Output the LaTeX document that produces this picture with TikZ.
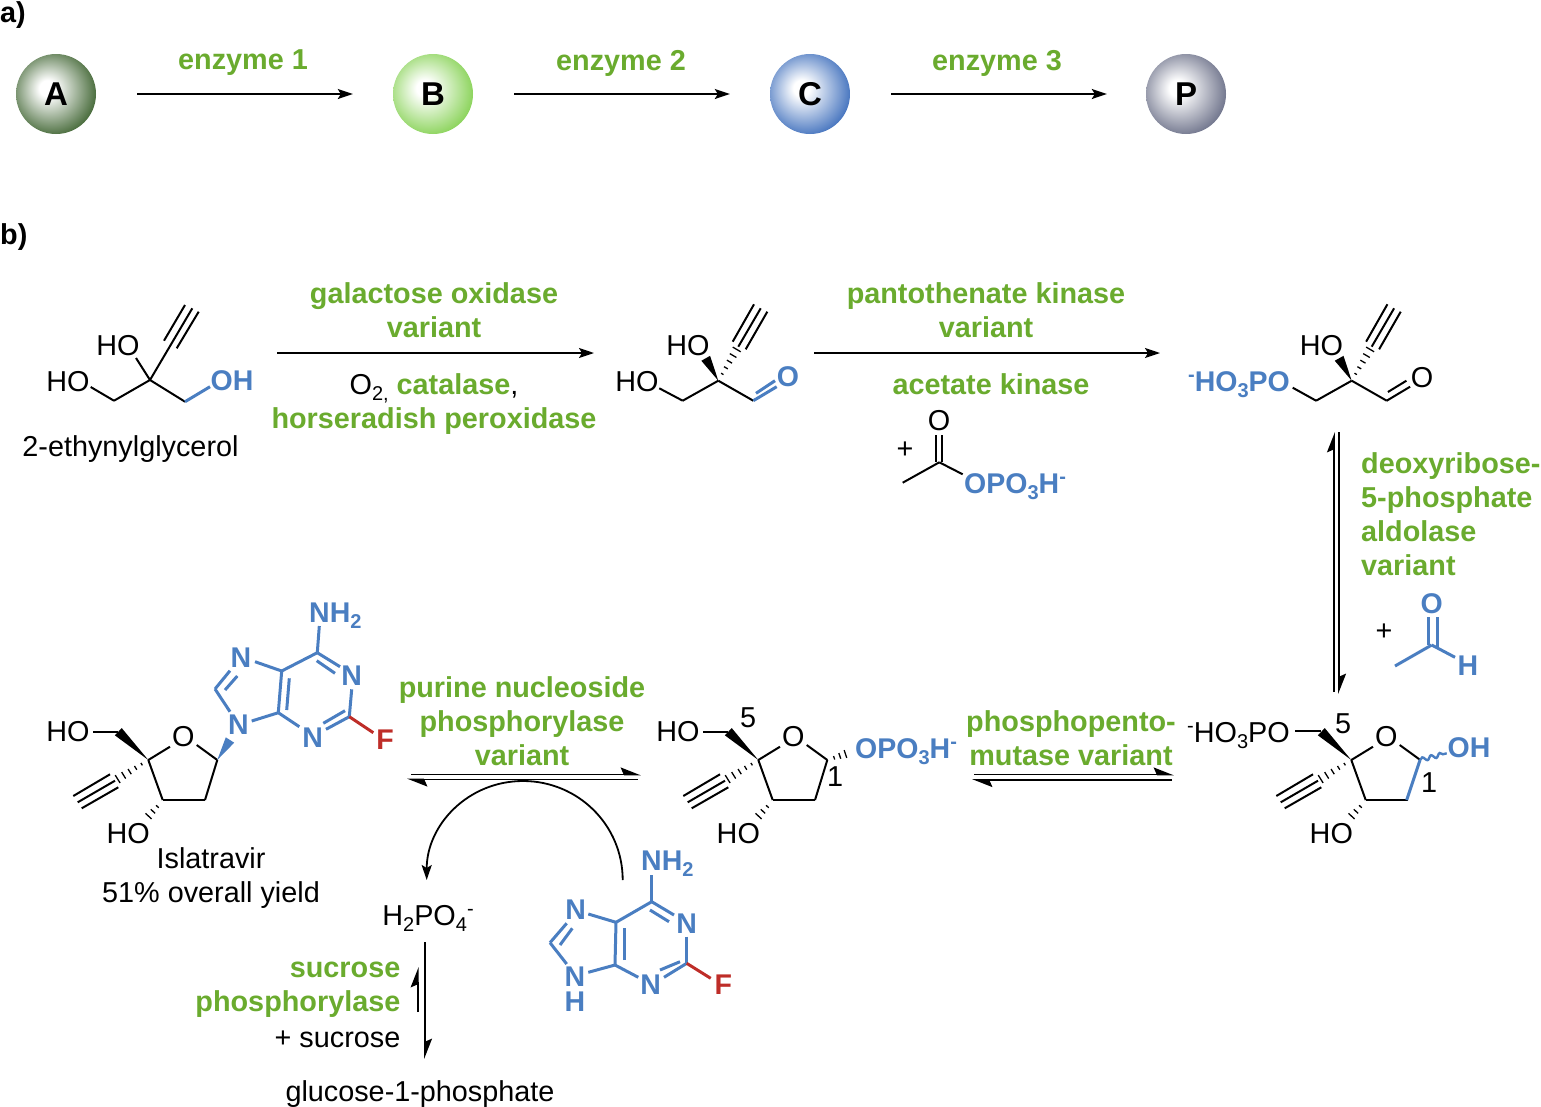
\documentclass[tikz,border=0pt]{standalone}
\usepackage{fontspec}
\setmainfont{Liberation Sans}
\usetikzlibrary{arrows.meta,calc,decorations.pathmorphing}

\definecolor{enzgreen}{RGB}{106,171,46}
\definecolor{subblue}{RGB}{74,126,193}
\definecolor{fred}{RGB}{190,45,40}
\definecolor{ballAcol}{RGB}{58,96,44}
\definecolor{ballBcol}{RGB}{130,208,78}
\definecolor{ballCcol}{RGB}{56,106,186}
\definecolor{ballPcol}{RGB}{102,107,132}

\pgfdeclareradialshading{ballA}{\pgfpoint{-6bp}{4bp}}{color(0bp)=(white); color(5bp)=(white); color(30bp)=(ballAcol); color(50bp)=(ballAcol)}
\pgfdeclareradialshading{ballB}{\pgfpoint{-6bp}{4bp}}{color(0bp)=(white); color(5bp)=(white); color(30bp)=(ballBcol); color(50bp)=(ballBcol)}
\pgfdeclareradialshading{ballC}{\pgfpoint{-6bp}{4bp}}{color(0bp)=(white); color(5bp)=(white); color(30bp)=(ballCcol); color(50bp)=(ballCcol)}
\pgfdeclareradialshading{ballP}{\pgfpoint{-6bp}{4bp}}{color(0bp)=(white); color(5bp)=(white); color(30bp)=(ballPcol); color(50bp)=(ballPcol)}

\newcommand{\chemsub}[1]{\raisebox{-6pt}{\fontsize{20}{20}\selectfont #1}}
\newcommand{\chemsup}[1]{\raisebox{10pt}{\fontsize{20}{20}\selectfont #1}}

\tikzset{
  every node/.style={inner sep=0pt, font=\fontsize{28.8}{34}\selectfont},
  atom/.style={},
  batom/.style={text=subblue, font=\fontsize{28.5}{34}\selectfont\bfseries},
  enz/.style={text=enzgreen, align=center, font=\fontsize{28.8}{34}\selectfont\bfseries},
  ball/.style={circle, minimum size=80pt, shade, font=\fontsize{33}{33}\selectfont\bfseries},
  bond/.style={line width=2pt},
  bbond/.style={line width=3pt, color=subblue},
  fbond/.style={line width=3pt, color=fred},
  rxn/.style={line width=1.8pt, -{Stealth[length=15pt,width=10pt,inset=3pt]}},
  eqm/.style={line width=1.8pt, -{Stealth[harpoon,length=18pt,width=14pt,inset=3pt]}}
}

\newcommand{\wedgebond}[4][black]{\fill[#1] (#2) -- ($(#3)!#4pt!90:(#2)$) -- ($(#3)!#4pt!-90:(#2)$) -- cycle;}
\newcommand{\hashbond}[3][0.2,0.38,0.56,0.74,0.92]{
  \foreach \hf in {#1}{
    \pgfmathsetmacro\hw{0.5+\hf*4.5}
    \draw[line width=1.3pt] ($(#2)!\hf!(#3)!\hw pt!90:(#3)$) -- ($(#2)!\hf!(#3)!\hw pt!-90:(#3)$);
  }
}

% furanose ring shared by the three nucleosides
\newcommand{\furanring}[1]{
  \draw[bond] (148.3,760) -- (170,746.7);
  \draw[bond] (196.7,745) -- (217.3,760);
  \draw[bond] (205,800) -- (162.7,800);
  \draw[bond] (162.7,800) -- (148.3,760);
  \wedgebond{148.3,760}{118.3,731.7}{5}
  \hashbond{148.3,760}{115,780.7}
  \draw[bond] (73.3,796) -- (110,774.3);
  \draw[bond] (77.7,802.3) -- (115,780.7);
  \draw[bond] (81.7,808.3) -- (118.3,787.3);
  \hashbond[0.3,0.55,0.8,1.0]{162.7,800.7}{145,820}
  \node[atom] (ringO#1) at (183.3,737) {O};
  \node[atom] (ringHO#1) at (128.3,834) {HO};
}

% alkyne carbon shared by the two aldehydes
\newcommand{\alkynal}[1]{
  \draw[bond] (682.7,400.7) -- (718.3,380.7);
  \draw[bond] (718.3,380.7) -- (753.3,400.7);
  \wedgebond{718.3,380.7}{705.7,358.3}{5}
  \hashbond{718.3,380.7}{738.3,346.7}
  \draw[bond] (738.3,346.7) -- (760.7,308.3);
  \draw[bond] (732.7,341.7) -- (754,304.3);
  \draw[bond] (745.7,349.3) -- (767.3,311.7);
  \node[atom] (topHO#1) at (688,346) {HO};
}

\begin{document}
\begin{tikzpicture}[x=1pt,y=-1pt]
\useasboundingbox (0,0) rectangle (1541,1106);

\node[font=\fontsize{28.8}{34}\selectfont\bfseries, anchor=west] (parta) at (0,15) {a)};
\node[font=\fontsize{28.8}{34}\selectfont\bfseries, anchor=west] (partb) at (0,237) {b)};

% part a
\node[ball, shading=ballA] (ballA) at (56,94) {\raisebox{-2pt}{A}};
\node[ball, shading=ballB] (ballB) at (433,94) {\raisebox{-3pt}{B}};
\node[ball, shading=ballC] (ballC) at (810,94) {\raisebox{-1pt}{C}};
\node[ball, shading=ballP] (ballP) at (1186,94) {P};
\draw[rxn, shorten <=41pt, shorten >=40pt] (ballA) -- (ballB);
\draw[rxn, shorten <=41pt, shorten >=40pt] (ballB) -- (ballC);
\draw[rxn, shorten <=41pt, shorten >=39pt] (ballC) -- (ballP);
\node[enz] (enz1) at (243,63) {enzyme 1};
\node[enz] (enz2) at (621,63) {enzyme 2};
\node[enz] (enz3) at (997,63) {enzyme 3};

% 2-ethynylglycerol
\draw[bond] (90.7,387) -- (114,400.7);
\draw[bond] (114,400.7) -- (150,380);
\draw[bond] (150,380) -- (185,401.7);
\draw[bbond] (185,401.7) -- (210,386.7);
\draw[bond] (150,380) -- (136,358);
\draw[bond] (150,380) -- (192.3,308.3);
\draw[bond] (164,340.7) -- (185,305);
\draw[bond] (176.7,348.3) -- (198.7,311.7);
\node[atom] (glyHOa) at (118,346) {HO};
\node[atom] (glyHOb) at (68,382) {HO};
\node[batom] (glyOH) at (232,381) {OH};
\node[atom] (glyname) at (130.5,449) {2-ethynylglycerol};

\coordinate (oxs) at (277,353);
\coordinate (oxe) at (594,353);
\draw[rxn] (oxs) -- (oxe);
\node[enz] (galox) at (434,310) {galactose oxidase\\variant};
\node[enz] (hrp) at (434,404.5) {{\fontsize{28.8}{34}\selectfont\mdseries\color{black}O\chemsub{2,}} catalase{\fontsize{28.8}{34}\selectfont\mdseries\color{black},}\\horseradish peroxidase};

% aldehyde
\alkynal{a}
\draw[bond] (659.3,388.3) -- (682.7,400.7);
\node[atom] (aldHO) at (637,382) {HO};
\draw[bbond] (753.3,400.7) -- (776.7,386.7);
\draw[bbond] (756,393.3) -- (775,380.7);
\node[batom] (aldO) at (788,377) {O};

\coordinate (kins) at (814,353);
\coordinate (kine) at (1160,353);
\draw[rxn] (kins) -- (kine);
\node[enz] (pank) at (986,310) {pantothenate kinase\\variant};
\node[enz] (acek) at (991,384) {acetate kinase};
\node[atom] (plusa) at (905,450) {+};
\draw[bond] (902.7,482.7) -- (939.3,462.3);
\draw[bond] (939.3,462.3) -- (962.7,474.3);
\draw[bond] (936.4,435) -- (936.4,462);
\draw[bond] (942.4,435) -- (942.4,462);
\node[atom] (aceO) at (939,421) {O};
\node[batom, anchor=west] (aceP) at (964,487) {OPO\chemsub{3}H\chemsup{-}};

% phosphorylated aldehyde
\begin{scope}[shift={(633.4,0)}]
\alkynal{b}
\draw[bond] (659.3,387.7) -- (682.7,400.7);
\draw[bond] (753.3,400.7) -- (776.7,386.7);
\draw[bond] (754.5,392) -- (773,380.7);
\end{scope}
\node[batom, anchor=east] (phosP) at (1290,385) {\chemsup{-}HO\chemsub{3}PO};
\node[atom] (phosO) at (1422,378) {O};

\coordinate (dersa) at (1334,692);
\coordinate (dersb) at (1334,432);
\coordinate (dersc) at (1339,432);
\coordinate (dersd) at (1339,694);
\draw[eqm] (dersa) -- (dersb);
\draw[eqm] (dersc) -- (dersd);
\node[enz, align=left, anchor=west] (dera) at (1361,514) {deoxyribose-\\5-phosphate\\aldolase\\variant};
\node[atom] (plusb) at (1384,632) {+};
\draw[bbond] (1395,666) -- (1431.7,645);
\draw[bbond] (1431.7,645) -- (1455,657.3);
\draw[bbond] (1428,617.3) -- (1428,645);
\draw[bbond] (1437,617.3) -- (1437,648);
\node[batom] (acalO) at (1431.7,603.3) {O};
\node[batom] (acalH) at (1468,666) {H};

% ribose phosphate
\begin{scope}[shift={(1203,0)}]
\furanring{c}
\end{scope}
\draw[bond] (1295,731) -- (1321,731);
\draw[bbond] (1420,760) -- (1406.7,800);
\draw[line width=2.4pt, color=subblue, decorate, decoration={snake, amplitude=2pt, segment length=9pt}] (1420,760) -- (1446.7,753.3);
\node[atom, anchor=east] (riboP) at (1290,736) {\chemsup{-}HO\chemsub{3}PO};
\node[batom] (riboOH) at (1469,748) {OH};
\node[atom] (riboa) at (1343,724) {5};
\node[atom] (ribob) at (1429,783) {1};

\coordinate (muta) at (974,774.5);
\coordinate (mutb) at (1174,774.5);
\coordinate (mutc) at (1172,780);
\coordinate (mutd) at (972,780);
\draw[eqm] (muta) -- (mutb);
\draw[eqm] (mutc) -- (mutd);
\node[enz] (ppm) at (1071,738) {phosphopento-\\mutase variant};

% 1-phosphate
\begin{scope}[shift={(610,0)}]
\furanring{b}
\draw[bond] (217.3,760) -- (205,800);
\draw[bond] (93.3,731.5) -- (118.3,731.5);
\node[atom] (sugHO) at (68,732) {HO};
\hashbond[0.3,0.55,0.8,1.0]{217.3,760}{240,752.5}
\end{scope}
\node[batom, anchor=west] (sugP) at (855,752) {OPO\chemsub{3}H\chemsup{-}};
\node[atom] (suga) at (748,718) {5};
\node[atom] (sugb) at (835,777) {1};

\coordinate (pnpa) at (411,774.5);
\coordinate (pnpb) at (641,774.5);
\coordinate (pnpc) at (638,779.5);
\coordinate (pnpd) at (407,779.5);
\draw[eqm] (pnpa) -- (pnpb);
\draw[eqm] (pnpc) -- (pnpd);
\node[enz] (pnp) at (522,721) {purine nucleoside\\phosphorylase\\variant};

% Islatravir
\furanring{a}
\draw[bond] (217.3,760) -- (205,800);
\draw[bond] (93.3,731.5) -- (118.3,731.5);
\node[atom] (islHO) at (68,732) {HO};
\wedgebond[subblue]{217.3,760}{230,740}{5}
\draw[bbond] (215,689) -- (230,670.7);
\draw[bbond] (225,690) -- (237.3,676);
\draw[bbond] (215,689) -- (230,711.7);
\draw[bbond] (251.7,721) -- (278.3,712.7);
\draw[bbond] (278.3,712.7) -- (281.7,671);
\draw[bbond] (286.7,710) -- (289.3,678.3);
\draw[bbond] (281.7,671) -- (255,661.7);
\draw[bbond] (281.7,671) -- (317.3,652.7);
\draw[bbond] (317.3,652.7) -- (340,666.7);
\draw[bbond] (316.7,660.7) -- (335,673.3);
\draw[bbond] (317.3,652.7) -- (319.3,626);
\draw[bbond] (351.7,689.3) -- (349.3,716.7);
\draw[bbond] (349.3,716.7) -- (326,729.3);
\draw[bbond] (345,710.7) -- (323.3,723.3);
\draw[bbond] (299.3,726.7) -- (278.3,712.7);
\draw[fbond] (349.3,716.7) -- (373.3,732.7);
\node[batom] (islN7) at (241,657.7) {N};
\node[batom] (islN9) at (238.3,725) {N};
\node[batom] (islN1) at (351.7,676) {N};
\node[batom] (islN3) at (312.7,738) {N};
\node[batom, anchor=west] (islNH) at (309,616) {NH\chemsub{2}};
\node[batom, text=fred] (islF) at (385,740) {F};
\node[atom, align=center] (islname) at (211,878) {Islatravir\\51\% overall yield};

% free base
\draw[bbond] (550,942.7) -- (566.7,923.3);
\draw[bbond] (560,945) -- (572.3,928.3);
\draw[bbond] (550,942.7) -- (566.7,964);
\draw[bbond] (588.3,972.3) -- (615,965);
\draw[bbond] (615,965) -- (616,922.3);
\draw[bbond] (624,960) -- (624,928.3);
\draw[bbond] (616,922.3) -- (588.3,914);
\draw[bbond] (616,922.3) -- (651.7,901.7);
\draw[bbond] (651.7,901.7) -- (674,915);
\draw[bbond] (650,910) -- (669,921.7);
\draw[bbond] (651.7,901.7) -- (651.7,875);
\draw[bbond] (686.7,936.7) -- (686.7,963.3);
\draw[bbond] (686.7,963.3) -- (664,977.3);
\draw[bbond] (680,961.7) -- (660,970);
\draw[bbond] (638.3,977.3) -- (615,965);
\draw[fbond] (686.7,963.3) -- (710.7,978.3);
\node[batom] (baseN7) at (575.7,910) {N};
\node[batom, align=center, font=\fontsize{28.5}{25}\selectfont\bfseries] (baseN9) at (575,989) {N\\H};
\node[batom] (baseN1) at (686.7,923.3) {N};
\node[batom] (baseN3) at (650.7,985) {N};
\node[batom, anchor=west] (baseNH) at (641,864) {NH\chemsub{2}};
\node[batom, text=fred] (baseF) at (723.3,985) {F};

% phosphate recycling
\coordinate (baseout) at (622.7,880);
\coordinate (basetop) at (523,781);
\coordinate (phosin) at (426.7,880);
\draw[line width=1.8pt] (baseout) .. controls (622.7,825) and (578,781) .. (basetop);
\draw[rxn] (basetop) .. controls (468,781) and (426.7,825) .. (phosin);
\node[atom] (phos) at (428,918) {H\chemsub{2}PO\chemsub{4}\chemsup{-}};
\coordinate (spa) at (425,942);
\coordinate (spb) at (425,1059);
\coordinate (spc) at (417.7,1012);
\coordinate (spd) at (417.7,967);
\draw[eqm] (spa) -- (spb);
\draw[eqm] (spc) -- (spd);
\node[enz, align=right, anchor=east] (sp) at (400.5,990) {sucrose\\phosphorylase};
\node[atom, anchor=east] (suc) at (400.5,1039) {+ sucrose};
\node[atom] (g1p) at (420,1094) {glucose-1-phosphate};
\end{tikzpicture}
\end{document}
